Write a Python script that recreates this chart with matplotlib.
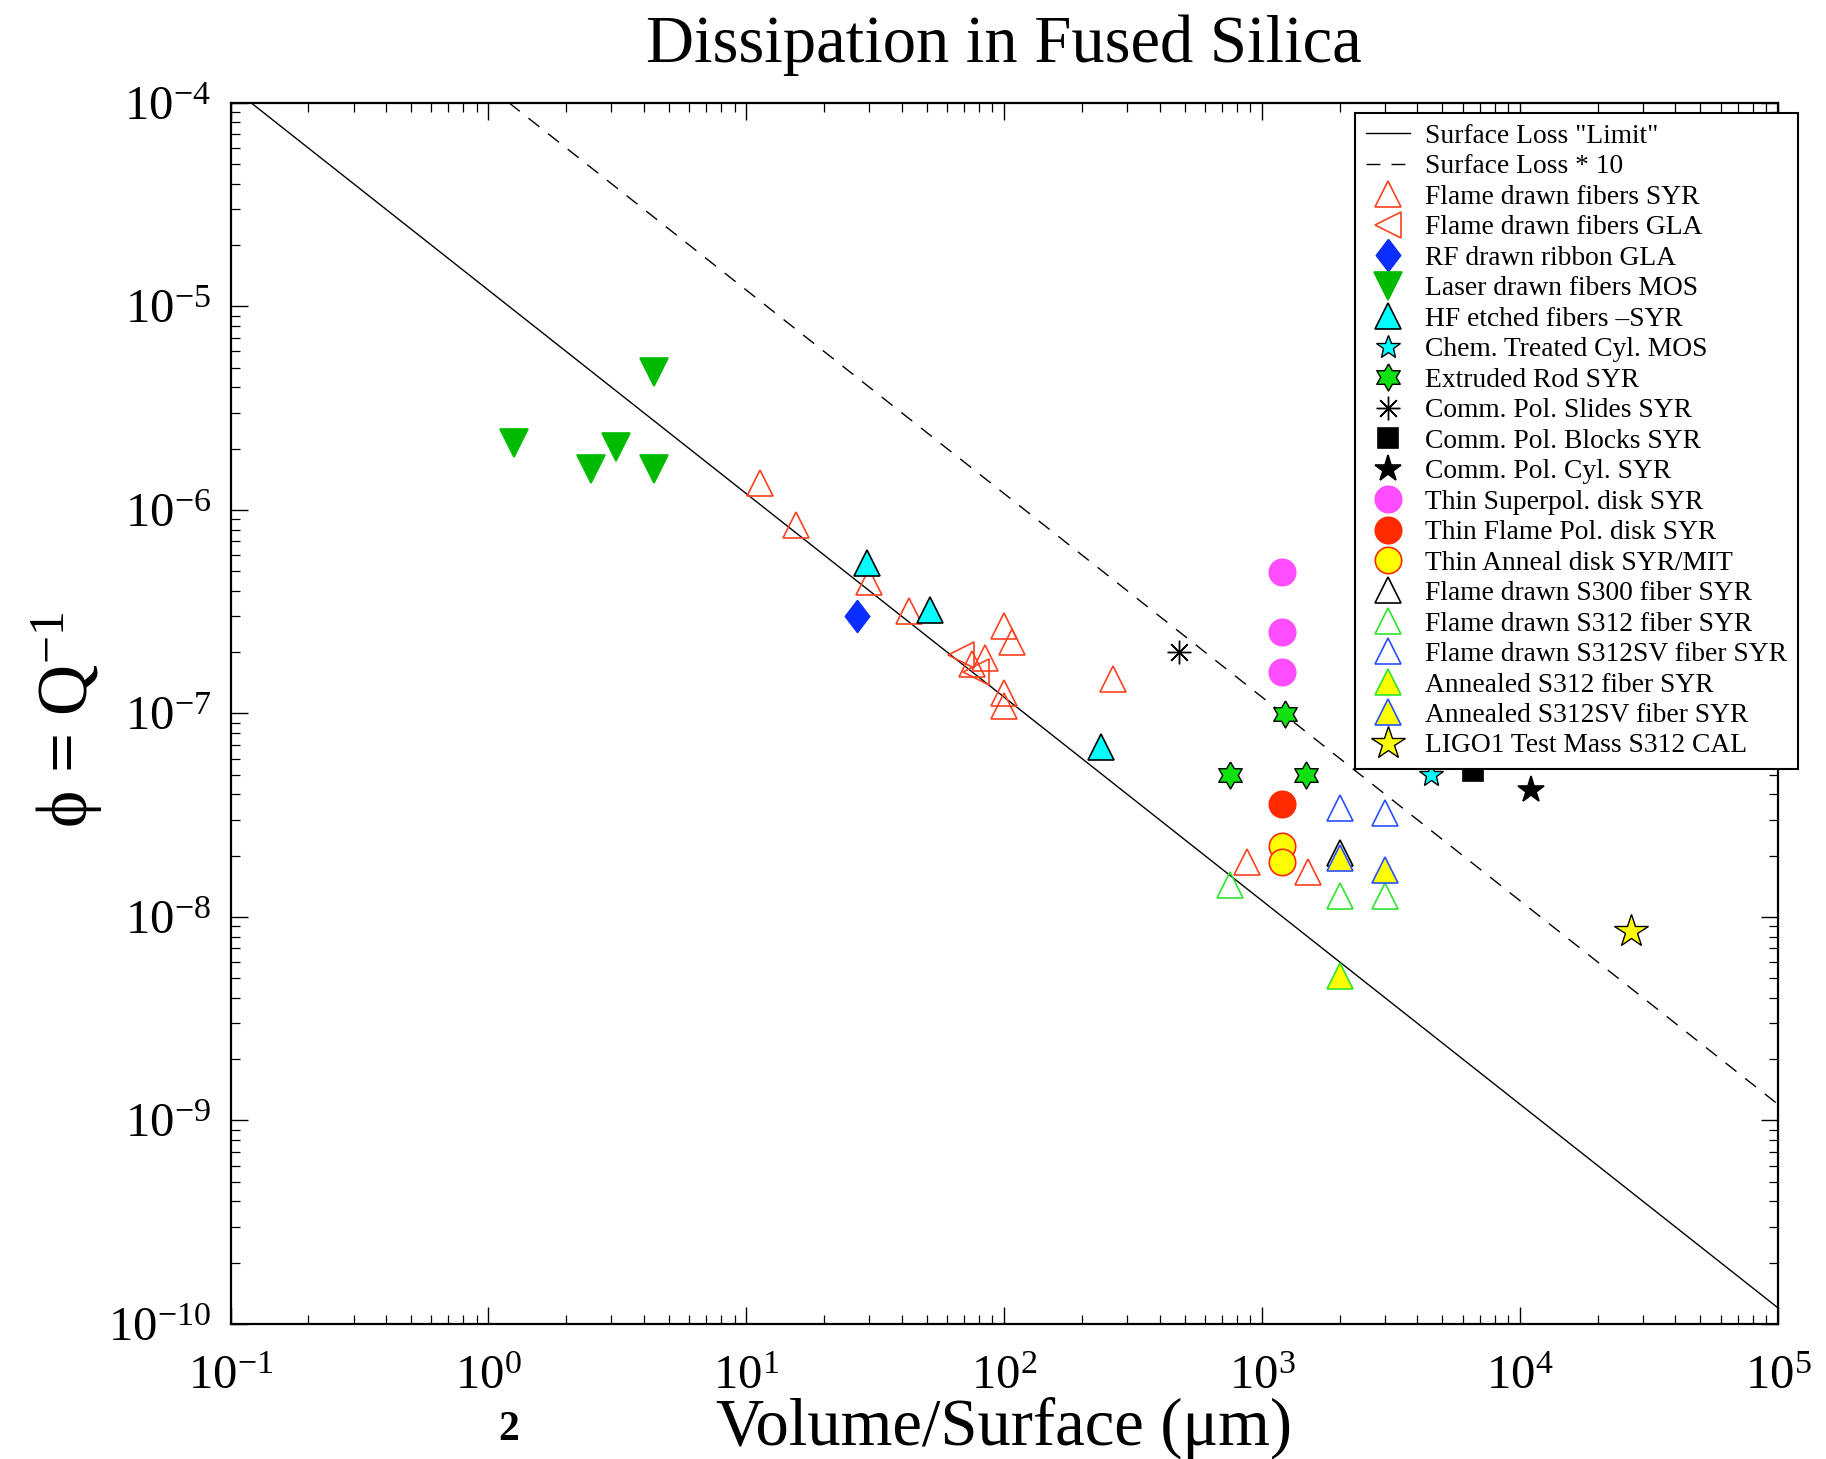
import math
import matplotlib
matplotlib.use('Agg')
import matplotlib.pyplot as plt
from matplotlib.ticker import LogLocator, LogFormatterMathtext, NullFormatter

plt.rcParams['font.family'] = ['Liberation Serif', 'DejaVu Serif']
plt.rcParams['mathtext.fontset'] = 'custom'
plt.rcParams['mathtext.rm'] = 'Liberation Serif'
plt.rcParams['mathtext.it'] = 'Liberation Serif:italic'
plt.rcParams['mathtext.bf'] = 'Liberation Serif:bold'

# surface loss lines (end points)
surf_x = [0.12, 1e5]
surf_y = [1e-4, 1.2e-10]
surf10_x = [1.2, 1e5]
surf10_y = [1e-4, 1.2e-9]

# measured points, volume/surface (um) vs loss angle
flame_syr_x = [11.3, 15.6, 30.0, 42.6, 100, 107, 84.5, 75, 100, 100, 263, 876, 1507]
flame_syr_y = [1.35e-6, 8.4e-7, 4.4e-7, 3.2e-7, 2.7e-7, 2.25e-7, 1.87e-7, 1.75e-7,
               1.26e-7, 1.09e-7, 1.47e-7, 1.87e-8, 1.66e-8]
flame_gla_x = [68, 78]
flame_gla_y = [1.94e-7, 1.6e-7]
rf_x = [26.9]
rf_y = [3.0e-7]
laser_x = [1.26, 2.51, 3.13, 4.38, 4.38]
laser_y = [2.12e-6, 1.59e-6, 2.03e-6, 4.77e-6, 1.59e-6]
hf_x = [29.4, 51.4, 238]
hf_y = [5.5e-7, 3.22e-7, 6.8e-8]
chem_x = [4530]
chem_y = [5.0e-8]
rod_x = [1222, 748, 1483]
rod_y = [9.9e-8, 5.0e-8, 5.0e-8]
slides_x = [476]
slides_y = [2.0e-7]
blocks_x = [6540]
blocks_y = [5.2e-8]
cyl_x = [10980]
cyl_y = [4.2e-8]
superpol_x = [1193, 1193, 1193]
superpol_y = [4.97e-7, 2.5e-7, 1.6e-7]
flamepol_x = [1193]
flamepol_y = [3.58e-8]
anneal_disk_x = [1193, 1193]
anneal_disk_y = [2.23e-8, 1.86e-8]
s300_x = [1996]
s300_y = [2.06e-8]
s312_x = [748, 1996, 3003]
s312_y = [1.43e-8, 1.27e-8, 1.27e-8]
s312sv_x = [1996, 3003]
s312sv_y = [3.42e-8, 3.23e-8]
ann312_x = [1996]
ann312_y = [5.1e-9]
ann312sv_x = [1996, 3003]
ann312sv_y = [1.94e-8, 1.70e-8]
ligo_x = [26980]
ligo_y = [8.5e-9]

RED = '#FF4020'
diamond = [(0, 1), (0.76, 0), (0, -1), (-0.76, 0), (0, 1)]
hexagram = []
for k in range(13):
    r = 1.0 if k % 2 == 0 else 0.577
    a = math.pi / 2 + k * math.pi / 6
    hexagram.append((r * math.cos(a), r * math.sin(a)))

fig = plt.figure(figsize=(18.26, 14.59), dpi=100)
ax = fig.add_axes([230.5 / 1826, 1 - 1324 / 1459, 1547.5 / 1826, 1221.3 / 1459])

ax.plot(surf_x, surf_y, color='black', lw=1.0, label='Surface Loss "Limit"')
ax.plot(surf10_x, surf10_y, color='black', lw=1.0, dashes=(10, 8),
        label='Surface Loss * 10')

def pts(x, y, label, marker, ms, fc, ec, mew=1.2):
    ax.plot(x, y, ls='none', marker=marker, ms=ms, mfc=fc, mec=ec, mew=mew, label=label)

pts(flame_syr_x, flame_syr_y, 'Flame drawn fibers SYR', '^', 19, 'none', RED)
pts(flame_gla_x, flame_gla_y, 'Flame drawn fibers GLA', '<', 19, 'none', RED)
pts(rf_x, rf_y, 'RF drawn ribbon GLA', diamond, 23, '#0A2EFF', '#0A2EFF')
pts(laser_x, laser_y, 'Laser drawn fibers MOS', 'v', 20, '#00BB00', '#00BB00')
pts(hf_x, hf_y, 'HF etched fibers \u2013SYR', '^', 19, '#00FFFF', 'black')
pts(chem_x, chem_y, 'Chem. Treated Cyl. MOS', '*', 18, '#00FFFF', 'black', 1.0)
pts(rod_x, rod_y, 'Extruded Rod SYR', hexagram, 19.5, '#11E011', 'black', 1.0)
pts(slides_x, slides_y, 'Comm. Pol. Slides SYR', (8, 2, 0), 17, 'black', 'black', 1.0)
pts(blocks_x, blocks_y, 'Comm. Pol. Blocks SYR', 's', 15, 'black', 'black')
pts(cyl_x, cyl_y, 'Comm. Pol. Cyl. SYR', '*', 20, 'black', 'black')
pts(superpol_x, superpol_y, 'Thin Superpol. disk SYR', 'o', 19, '#FF4DFF', '#FF4DFF')
pts(flamepol_x, flamepol_y, 'Thin Flame Pol. disk SYR', 'o', 19, '#FF2A00', '#FF2A00')
pts(anneal_disk_x, anneal_disk_y, 'Thin Anneal disk SYR/MIT', 'o', 19, '#FFFF00', '#FF2A00')
pts(s300_x, s300_y, 'Flame drawn S300 fiber SYR', '^', 19, 'none', 'black')
pts(s312_x, s312_y, 'Flame drawn S312 fiber SYR', '^', 19, 'none', '#2EE62E')
pts(s312sv_x, s312sv_y, 'Flame drawn S312SV fiber SYR', '^', 19, 'none', '#2A50FF')
pts(ann312_x, ann312_y, 'Annealed S312 fiber SYR', '^', 19, '#FFFF00', '#2EE62E')
pts(ann312sv_x, ann312sv_y, 'Annealed S312SV fiber SYR', '^', 19, '#FFFF00', '#2A50FF')
pts(ligo_x, ligo_y, 'LIGO1 Test Mass S312 CAL', '*', 25, '#FFFF00', 'black', 1.0)

ax.set_xscale('log')
ax.set_yscale('log')
ax.set_xlim(1e-1, 1e5)
ax.set_ylim(1e-10, 1e-4)
for axis in (ax.xaxis, ax.yaxis):
    axis.set_major_locator(LogLocator(base=10, numticks=20))
    axis.set_major_formatter(LogFormatterMathtext())
    axis.set_minor_locator(LogLocator(base=10, subs=range(2, 10), numticks=20))
    axis.set_minor_formatter(NullFormatter())

ax.tick_params(which='both', direction='in', top=True, right=True)
ax.tick_params(which='major', length=12, width=1.0, labelsize=35)
ax.tick_params(which='minor', length=6.5, width=0.9)
ax.tick_params(axis='x', which='major', pad=22)
ax.tick_params(axis='y', which='major', pad=14)
for sp in ax.spines.values():
    sp.set_linewidth(1.6)

ax.set_title('Dissipation in Fused Silica', fontsize=48, pad=29)
ax.set_xlabel('Volume/Surface (\u03bcm)', fontsize=48)
ax.xaxis.set_label_coords(0.5, -0.059)
ax.set_ylabel('\u03d5 = Q$^{-1}$', fontsize=51)
ax.yaxis.set_label_coords(-0.081, 0.495)

leg = ax.legend(loc='upper left', bbox_to_anchor=(0.7264, 0.9918), fontsize=19.8,
                labelspacing=0.19, handlelength=1.6, handletextpad=0.55,
                borderpad=0.4, borderaxespad=0, numpoints=1, fancybox=False,
                edgecolor='black', framealpha=1)
leg.get_frame().set_linewidth(1.5)

fig.text(509 / 1826, 1 - 1430 / 1459, '2', fontsize=30, fontweight='bold',
         ha='center', va='center')

fig.savefig('out.png', dpi=100)
